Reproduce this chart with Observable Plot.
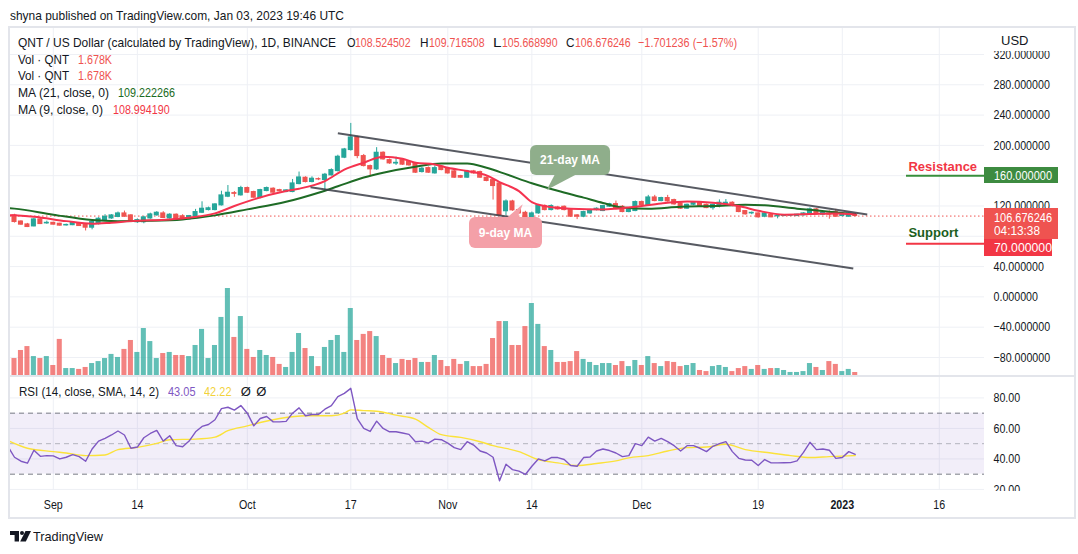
<!DOCTYPE html>
<html>
<head>
<meta charset="utf-8">
<script src="https://cdn.jsdelivr.net/npm/d3@7"></script>
<script src="https://cdn.jsdelivr.net/npm/@observablehq/plot@0.6"></script>
<style>
html,body{margin:0;padding:0;background:#fff;}
#root{position:relative;width:1078px;height:554px;overflow:hidden;background:#fff;color:#131722;}
.a{position:absolute;white-space:nowrap;line-height:1;}
.layer{position:absolute;left:0;top:0;}
</style>
</head>
<body>
<div id="root"></div>
<script>
// ---------------- DATA ----------------
// day index 0 = 2022-08-25 ; candles are days 1..131 (2022-08-26 .. 2023-01-03)
const opens = [107.6,99.5,95.7,93.0,102.3,97.0,97.8,96.6,94.3,94.6,
 97.5,95.5,91.3,96.0,101.4,103.5,105.5,110.2,107.6,98.5,
 98.5,103.5,107.6,110.2,103.5,108.5,106.5,102.3,105.8,111.0,
 114.6,114.6,120.8,132.2,137.0,134.0,143.7,138.4,130.5,139.7,
 142.8,141.0,138.4,138.4,148.9,157.3,151.6,155.5,154.2,160.4,
 166.0,183.7,193.8,210.5,185.9,172.7,168.3,190.3,180.6,176.0,
 180.6,178.0,176.2,164.8,170.0,163.0,171.8,169.2,165.7,159.5,
 157.3,165.7,164.8,157.3,154.2,149.8,113.0,126.0,114.6,111.0,
 102.3,110.2,120.0,114.6,118.1,119.0,114.6,107.6,105.8,110.2,
 114.6,113.3,119.0,122.5,119.0,112.0,113.3,125.2,120.8,131.3,
 126.5,130.5,127.8,123.4,116.4,121.6,124.3,121.6,117.2,119.9,
 122.5,124.3,119.9,113.3,110.2,110.2,105.8,108.5,106.3,106.7,
 107.0,106.7,107.6,108.9,115.5,108.5,110.0,112.0,106.7,105.8,
 108.524502];
const highs = [109.0,100.5,97.0,103.5,103.5,100.0,98.5,97.2,96.0,98.5,
 98.3,96.5,99.5,104.5,108.5,108.5,112.0,113.3,108.5,103.0,
 106.5,110.5,112.5,112.5,109.8,109.5,108.5,107.5,115.5,125.5,
 118.5,123.0,139.5,147.0,139.0,146.0,145.0,139.5,142.0,145.0,
 144.0,142.0,141.5,155.0,164.8,158.5,158.5,157.0,163.0,169.0,
 187.0,196.0,229.0,212.0,188.0,174.0,197.0,191.5,182.0,184.5,
 182.0,179.5,177.5,171.0,171.5,173.0,173.0,170.5,167.0,160.5,
 167.0,167.0,166.0,158.5,155.5,151.0,128.0,127.5,116.0,113.0,
 112.0,122.0,121.5,121.5,119.5,120.0,115.5,108.5,113.0,115.5,
 117.5,121.0,123.5,126.5,120.5,117.5,126.5,126.5,134.0,134.0,
 131.5,134.0,129.0,124.5,122.5,125.5,125.5,122.5,122.5,128.0,
 128.5,125.5,120.5,114.0,112.0,111.0,111.0,109.5,108.0,108.5,
 108.5,109.0,111.0,117.5,116.5,112.5,113.5,115.5,109.5,111.0,
 109.716508];
const lows = [97.5,94.5,91.5,92.5,95.5,95.8,94.8,93.4,93.5,94.0,
 93.0,87.0,88.5,95.0,100.5,102.5,104.5,105.0,98.0,97.0,
 96.5,102.5,106.5,103.5,102.5,101.5,102.0,101.5,105.0,110.0,
 113.5,113.5,120.0,131.0,131.5,133.0,136.5,130.0,129.5,138.8,
 136.5,138.5,137.5,137.5,148.0,150.5,150.5,153.5,140.6,159.5,
 165.0,182.5,192.5,182.4,171.5,159.5,167.0,180.5,175.0,173.5,
 173.5,172.5,163.0,163.5,163.0,162.0,166.5,162.0,156.5,156.5,
 156.5,162.0,156.5,152.0,127.8,106.5,107.0,113.0,109.0,101.5,
 98.0,109.0,113.5,113.5,114.5,113.5,105.0,102.0,104.5,109.0,
 113.5,112.5,118.0,116.5,111.0,111.0,112.5,120.0,120.0,125.5,
 125.5,125.0,121.0,115.5,115.5,120.5,119.0,116.5,114.5,117.5,
 121.5,119.0,111.0,108.0,108.5,104.0,104.5,104.5,103.0,106.0,
 106.2,106.0,107.0,108.0,108.0,107.5,102.5,105.0,105.5,105.0,
 105.668990];
const closes = [98.8,95.3,92.2,102.3,96.1,97.8,95.3,94.0,95.0,97.9,
 93.5,91.3,98.8,103.2,105.8,107.6,110.2,105.8,98.8,101.4,
 105.0,108.9,111.1,104.1,108.5,102.3,103.2,106.7,112.0,116.4,
 117.0,122.1,134.0,137.5,136.0,143.7,137.5,130.9,141.0,143.7,
 137.5,139.3,140.6,149.8,157.7,151.6,156.0,155.0,161.3,167.4,
 185.0,194.7,210.5,185.9,172.7,168.3,190.3,181.5,176.2,177.0,
 174.5,173.6,163.9,169.2,163.9,170.0,167.4,163.0,157.3,157.3,
 165.7,163.0,157.3,153.0,146.3,107.6,126.0,114.2,110.2,102.3,
 110.2,120.8,114.6,120.0,115.5,114.6,105.8,105.8,112.0,114.6,
 116.4,119.9,122.5,117.2,112.0,116.4,125.2,120.8,131.3,126.5,
 130.5,126.0,122.1,116.4,121.6,124.7,119.9,117.2,121.6,124.3,
 124.3,119.9,112.0,108.9,111.0,105.0,110.2,105.0,107.0,107.6,
 107.6,108.5,110.2,115.5,108.9,111.0,108.5,105.8,108.5,110.2,
 106.676246];
// volume in thousands (K)
const volumes = [9.5,14.0,16.2,10.6,9.5,10.6,5.6,20.2,3.9,3.9,
 3.4,4.5,6.7,7.8,9.5,11.8,10.1,14.6,19.6,12.9,
 26.3,19.0,9.5,12.3,12.9,11.2,11.2,10.6,16.8,25.8,
 9.5,16.8,32.5,48.7,21.3,33.0,14.6,10.1,14.0,11.2,
 10.1,6.2,4.5,12.9,23.5,15.1,10.6,5.0,15.7,19.6,
 22.4,12.9,37.5,19.6,23.0,24.6,21.8,11.2,9.5,6.7,
 9.0,8.4,9.5,7.3,7.3,11.2,8.4,5.0,9.0,6.2,
 7.8,5.0,5.0,6.2,20.7,30.2,30.2,16.8,16.8,27.4,
 40.3,28.6,16.2,14.0,7.3,7.3,7.8,13.4,9.0,7.3,
 5.6,6.7,6.7,5.6,7.8,5.0,8.4,5.6,10.6,6.7,
 5.0,7.8,7.3,5.0,5.6,6.7,2.8,2.2,5.0,5.6,
 4.5,2.2,3.9,5.0,3.4,5.6,3.4,3.9,3.9,2.8,
 1.7,1.7,2.2,6.7,4.5,2.8,7.8,6.2,2.2,3.4,
 1.678];
// moving averages: [day index, value]
const ma21 = [[0,117.3],[1,116.5],[7,108.5],[13,101.4],[17,100],[22,100.5],[27,102.3],[32,107.6],[37,115.5],[43,125.5],[48,137.5],[51,146],[55,157.5],[58,163.9],[63,171.8],[67,176],[71,176.2],[74,170.5],[77,162],[81,150],[85,140],[89,131],[92,124],[95,118],[99,116.4],[104,119],[109,119.9],[114,121.6],[117,120.8],[122,116.4],[127,112.5],[131,109.222266]];
const ma9 = [[0,108],[1,107.6],[4,105.8],[9,100],[13,96.5],[16,98],[19,100],[25,102.3],[28,104.5],[32,110.2],[35,119.9],[38,128.7],[43,139.7],[45,142.8],[49,152.9],[52,168],[55,177.1],[58,185],[61,182.4],[63,177.1],[66,174.9],[68,170.5],[71,166.1],[74,160.4],[76,151.6],[79,139.7],[81,125.2],[83,119.9],[87,116.4],[92,115.5],[94,116.4],[97,119],[101,123.4],[105,126],[109,124.3],[113,119.9],[116,113.7],[120,108.5],[124,109.3],[128,110.2],[131,108.99419]];
// RSI(14), day index 0..131
const rsi = [48,
 41.1,38.5,37.2,45.7,41.7,42.2,42,40,41.1,42.8,
 41.5,38.5,46.5,51.7,53.5,55.7,58.3,55.7,47,47.8,
 53.9,56.7,58.7,51.7,55.2,48.7,48,51.7,57.8,61.3,
 62.6,65.7,73,73.9,72,75,70,61.7,66.5,67.8,
 64.3,64.3,64.6,70,73.5,68.3,69.1,69.1,72.6,75,
 80.9,83,86.3,66.5,60,58,64.8,60,57.8,57.8,
 57,56.1,51.3,51.7,50.4,53,52.6,50.4,47.4,46.1,
 51.3,49.1,45.2,43.9,41.1,25.7,36.5,33,32,29.8,
 35.2,40,38.7,40.9,40.9,39.6,35.7,35.2,40.9,41.3,
 45.2,46.5,45.5,43.9,41.5,42.2,50,48.7,54.3,51.7,
 53.5,51.3,48.7,45.2,48.7,48.7,47,44.8,48.3,50,
 51.3,44.8,40.4,39.3,39.1,35.7,39.6,37.4,37.4,37.5,
 37.6,38.7,44.3,50.9,46.1,46.5,45.7,40.4,40.9,44.8,
 43.05];
// RSI-based SMA(14): [day index, value]
const rsiMA = [[0,52],[3,47],[7,44.8],[9,43.9],[12,42.2],[15,42.6],[17,46.1],[20,47.6],[23,50.2],[25,52.6],[29,53],[32,54.3],[34,58.5],[37,61.7],[39,63.9],[42,66.5],[46,68.3],[50,68.3],[52,70],[53,72.2],[55,71.7],[57,71.3],[60,68.7],[63,66.1],[65,60.7],[67,55.9],[70,54.1],[73,51.3],[75,48.7],[79,44.8],[82,39.5],[85,37.4],[88,35.7],[91,37],[94,38.7],[96,40.7],[99,42.2],[102,45.2],[105,47.4],[108,47.8],[111,49.6],[114,46.1],[118,43.9],[121,42.2],[124,40.9],[127,41.5],[131,42.22]];
// user drawings (channel) in chart coordinates: [day, price]
const channel = [[[51.0,216.1],[132.86,108.8]], [[46.77,144.8],[130.7,37.5]]];
const levels = [{name:"Resistance", price:160, day:138.93}, {name:"Support", price:70, day:138.93}];
const callouts = [{text:"21-day MA", day:86.98, price:180.07, tipDay:83.37, tipPrice:140.46},
                  {text:"9-day MA", day:77.0, price:84.36, tipDay:79.66, tipPrice:121.58}];
// price-scale labels that stay visible (80 and 160 sit under the price tags)
const priceTicks = [-80,-40,0,40,120,200,240,280,320];
const gridTicks = [-80,-40,0,40,80,120,160,200,240,280,320];
const rsiTicks = [20,40,60,80];
const tickDays = ["2022-09-01","2022-09-14","2022-10-01","2022-10-17","2022-11-01","2022-11-14","2022-12-01","2022-12-19","2023-01-01","2023-01-16"];
const tickLabels = ["Sep","14","Oct","17","Nov","14","Dec","19","2023","16"];
const lastClose = 106.676246;

// ---------------- HELPERS ----------------
const base = Date.UTC(2022, 7, 25);
const DAY = 864e5;
const dateOf = i => new Date(base + i * DAY);
const root = document.getElementById("root");

const narrowOK = (() => {
  const c = document.createElement("canvas").getContext("2d");
  c.font = "13px monospace"; const a = c.measureText("abcdefghij0123456789").width;
  c.font = "13px 'Liberation Sans Narrow', monospace"; const b = c.measureText("abcdefghij0123456789").width;
  return Math.abs(a - b) > 0.5;
})();
const FONT = narrowOK ? "'Liberation Sans Narrow','Liberation Sans',Arial,sans-serif" : "'Liberation Sans',Arial,sans-serif";
const REG = "'Liberation Sans',Arial,sans-serif";

function txt(str, o) {
  const d = document.createElement("div");
  d.className = "a"; d.textContent = str;
  const size = o.size || 13;
  Object.assign(d.style, {left: o.left + "px", top: (o.cy - size * 0.49) + "px", fontSize: size + "px",
    color: o.color || "#131722", fontWeight: o.weight || "normal", fontFamily: o.family || FONT});
  root.appendChild(d);
  if (o.width) {
    const w = d.getBoundingClientRect().width;
    d.style.transformOrigin = "0 50%";
    d.style.transform = `scaleX(${o.width / w})`;
  }
  return d;
}
function box(css) { const d = document.createElement("div"); d.style.position = "absolute"; Object.assign(d.style, css); root.appendChild(d); return d; }
function place(el, top) { el.classList.add("layer"); el.style.top = top + "px"; root.appendChild(el); return el; }
function squeezeSvgText(svg) {
  if (narrowOK) return;
  svg.querySelectorAll("text").forEach(t => {
    if (t.getAttribute("data-keep")) return;
    const L = t.getComputedTextLength();
    if (L > 0) { t.setAttribute("textLength", L * 0.82); t.setAttribute("lengthAdjust", "spacingAndGlyphs"); }
  });
}

// ---------------- TABLES ----------------
const candles = opens.map((o, k) => ({i: k + 1, date: dateOf(k + 1), o, h: highs[k], l: lows[k], c: closes[k], v: volumes[k], up: closes[k] >= o}));
const up = candles.filter(d => d.up), down = candles.filter(d => !d.up);
const ticks = tickDays.map((s, k) => ({date: new Date(s + "T00:00Z"), label: tickLabels[k]}));
const tickDates = ticks.map(t => t.date);

// ---------------- LAYOUT ----------------
const xDomain = [dateOf(0.382), dateOf(150.99)];
const priceDomain = [-103.8, 354.3];
const rsiDomain = [19.3, 93.4];
const common = {width: 1078, height: 554, marginLeft: 10, marginRight: 94};
const xOpt = {type: "utc", domain: xDomain, axis: null};
const svgStyle = {background: "transparent", fontFamily: FONT, fontSize: "13px", color: "#131722", overflow: "visible"};
const GRID = "#eef0f5";
const UP = "#26a69a", DOWN = "#ef5350";
const bx1 = d => dateOf(d.i - 0.39), bx2 = d => dateOf(d.i + 0.39);

// outer frame
box({left: "8px", top: "26px", width: "1068px", height: "493px", border: "2px solid #e3e5eb", boxSizing: "border-box"});

// grid layer (price pane)
const gridPlot = Plot.plot({...common, marginTop: 28, marginBottom: 179, x: xOpt, y: {domain: priceDomain, axis: null}, style: svgStyle,
  marks: [Plot.gridY(gridTicks, {stroke: GRID, strokeOpacity: 1}), Plot.gridX(tickDates, {stroke: GRID, strokeOpacity: 1})]});
place(gridPlot, 0);

// volume layer
const volPlot = Plot.plot({...common, marginTop: 288, marginBottom: 179, x: xOpt, y: {domain: [0, 48.7], axis: null}, style: svgStyle,
  marks: [
    Plot.rect(up, {x1: bx1, x2: bx2, y1: 0, y2: "v", fill: UP, fillOpacity: 0.72}),
    Plot.rect(down, {x1: bx1, x2: bx2, y1: 0, y2: "v", fill: DOWN, fillOpacity: 0.72})
  ]});
place(volPlot, 0);

// price layer
const fmtPrice = d => (d < 0 ? "\u2212" : "") + Math.abs(d).toFixed(6);
const pricePlot = Plot.plot({...common, marginTop: 28, marginBottom: 179, x: xOpt, y: {domain: priceDomain}, style: svgStyle,
  marks: [
    Plot.ruleY([lastClose], {stroke: DOWN, strokeWidth: 1, strokeDasharray: "1.5,2.5"}),
    Plot.ruleX(up, {x: "date", y1: "l", y2: "h", stroke: UP, strokeWidth: 1}),
    Plot.ruleX(down, {x: "date", y1: "l", y2: "h", stroke: DOWN, strokeWidth: 1}),
    Plot.rect(up, {x1: bx1, x2: bx2, y1: "o", y2: "c", fill: UP, insetTop: -0.5, insetBottom: -0.5}),
    Plot.rect(down, {x1: bx1, x2: bx2, y1: "o", y2: "c", fill: DOWN, insetTop: -0.5, insetBottom: -0.5}),
    Plot.line(ma21, {x: d => dateOf(d[0]), y: d => d[1], stroke: "#1e6b25", strokeWidth: 2, curve: "monotone-x", clip: true}),
    Plot.line(ma9, {x: d => dateOf(d[0]), y: d => d[1], stroke: "#f5334f", strokeWidth: 2, curve: "monotone-x", clip: true}),
    Plot.link(channel, {x1: d => dateOf(d[0][0]), y1: d => d[0][1], x2: d => dateOf(d[1][0]), y2: d => d[1][1], stroke: "#3a3d46", strokeOpacity: 0.85, strokeWidth: 2}),
    Plot.ruleY(levels.slice(0, 1), {y: "price", x1: d => dateOf(d.day), x2: xDomain[1], stroke: "#388e3c", strokeWidth: 2}),
    Plot.ruleY(levels.slice(1), {y: "price", x1: d => dateOf(d.day), x2: xDomain[1], stroke: "#f23645", strokeWidth: 2}),
    Plot.text(levels.slice(0, 1), {x: d => dateOf(d.day + 0.3), y: "price", text: "name", textAnchor: "start", dy: -9, fill: "#f23645", fontWeight: "bold", fontSize: 13, fontFamily: REG}),
    Plot.text(levels.slice(1), {x: d => dateOf(d.day + 0.3), y: "price", text: "name", textAnchor: "start", dy: -11, fill: "#1b5e20", fontWeight: "bold", fontSize: 13, fontFamily: REG}),
    Plot.axisY(priceTicks, {anchor: "right", tickSize: 0, tickPadding: 9, tickFormat: fmtPrice})
  ]});
place(pricePlot, 0);
pricePlot.querySelectorAll("[aria-label='text'] text").forEach(t => t.setAttribute("data-keep", "1"));

const sx = pricePlot.scale("x"), sy = pricePlot.scale("y");
// callouts
const calloutStyle = [
  {w: 80, h: 30, fill: "#8fae8b", base: [-15, 7], edge: 1},
  {w: 73, h: 31, fill: "#f4a0a8", base: [1, 12], edge: -1}
];
const cg = d3.select(pricePlot).append("g");
callouts.forEach((c, k) => {
  const st = calloutStyle[k];
  const cx = sx.apply(dateOf(c.day)), cy = sy.apply(c.price);
  const tx = sx.apply(dateOf(c.tipDay)), ty = sy.apply(c.tipPrice);
  const ey = cy + st.edge * (st.h / 2 - 1);
  cg.append("path").attr("d", `M${cx + st.base[0]},${ey}L${tx},${ty}L${cx + st.base[1]},${ey}Z`).attr("fill", st.fill);
  cg.append("rect").attr("x", cx - st.w / 2).attr("y", cy - st.h / 2).attr("width", st.w).attr("height", st.h).attr("rx", 6).attr("fill", st.fill);
  cg.append("text").attr("data-keep", "1").attr("x", cx).attr("y", cy).attr("dy", "0.36em").attr("text-anchor", "middle")
    .attr("fill", "#fff").attr("font-weight", "bold").attr("font-size", 12).attr("font-family", REG).text(c.text);
});
squeezeSvgText(pricePlot);

// pane separator
box({left: "9px", top: "375px", width: "1066px", height: "2px", background: "#e3e5eb"});

// RSI pane (clipped)
const rsiWrap = box({left: "0px", top: "377px", width: "1078px", height: "114px", overflow: "hidden"});
const rsiPlot = Plot.plot({...common, marginTop: 377, marginBottom: 64, x: xOpt, y: {domain: rsiDomain}, style: svgStyle,
  marks: [
    Plot.gridY(rsiTicks, {stroke: GRID, strokeOpacity: 1}),
    Plot.gridX(tickDates, {stroke: GRID, strokeOpacity: 1}),
    Plot.rect([0], {y1: 30, y2: 70, fill: "#7e57c2", fillOpacity: 0.1}),
    Plot.ruleY([70, 30], {stroke: "#787b86", strokeDasharray: "5,4"}),
    Plot.ruleY([50], {stroke: "#787b86", strokeOpacity: 0.5, strokeDasharray: "5,4"}),
    Plot.line(rsiMA, {x: d => dateOf(d[0]), y: d => d[1], stroke: "#fbe23a", strokeWidth: 1.4, curve: "monotone-x", clip: true}),
    Plot.line(rsi, {x: (d, k) => dateOf(k), y: d => d, stroke: "#7e57c2", strokeWidth: 1.4, clip: true}),
    Plot.axisY(rsiTicks, {anchor: "right", tickSize: 0, tickPadding: 9, tickFormat: d => d.toFixed(2)})
  ]});
rsiPlot.classList.add("layer"); rsiPlot.style.top = "-377px"; rsiWrap.appendChild(rsiPlot);
squeezeSvgText(rsiPlot);

// date axis
const dateAxis = Plot.plot({width: 1078, height: 30, marginLeft: 10, marginRight: 94, marginTop: 0, marginBottom: 0, x: xOpt, style: svgStyle,
  marks: [
    Plot.text(ticks.filter(t => t.label !== "2023"), {x: "date", text: "label", frameAnchor: "middle", fill: "#131722", fontSize: 13}),
    Plot.text(ticks.filter(t => t.label === "2023"), {x: "date", text: "label", frameAnchor: "middle", fill: "#131722", fontSize: 13, fontWeight: "bold"})
  ]});
place(dateAxis, 489);
squeezeSvgText(dateAxis);

// ---------------- HTML TEXT ----------------
txt("shyna published on TradingView.com, Jan 03, 2023 19:46 UTC", {left: 9.5, cy: 15, width: 334});
txt("QNT / US Dollar (calculated by TradingView), 1D, BINANCE", {left: 18.3, cy: 42.3, width: 318});
const ohlc = [["O", "108.524502", 346.7], ["H", "109.716508", 420], ["L", "105.668990", 493.3], ["C", "106.676246", 566]];
ohlc.forEach(([k, v, x]) => { txt(k, {left: x, cy: 42.3, width: 8.5}); txt(v, {left: x + 8.7, cy: 42.3, width: 55.5, color: DOWN}); });
txt("\u22121.701236 (\u22121.57%)", {left: 638.3, cy: 42.3, width: 99, color: DOWN});
[59, 75.6].forEach(cy => { txt("Vol \u00b7 QNT", {left: 18.3, cy, width: 51}); txt("1.678K", {left: 78.3, cy, width: 34, color: DOWN}); });
txt("MA (21, close, 0)", {left: 18.3, cy: 92.3, width: 91}); txt("109.222266", {left: 118.3, cy: 92.3, width: 57, color: "#1b6b23"});
txt("MA (9, close, 0)", {left: 18.3, cy: 109.3, width: 85}); txt("108.994190", {left: 112.7, cy: 109.3, width: 56.6, color: "#f23645"});
txt("RSI (14, close, SMA, 14, 2)", {left: 18.9, cy: 391, width: 140});
txt("43.05", {left: 167.5, cy: 391, width: 27.5, color: "#7e57c2"});
txt("42.22", {left: 203.6, cy: 391, width: 27.5, color: "#f2d23a"});
txt("\u00d8", {left: 240.7, cy: 391}); txt("\u00d8", {left: 256.2, cy: 391});

// USD header on price scale (its white strip trims the top of the 320 label, as in the original)
box({left: "988px", top: "30px", width: "84px", height: "21px", background: "#fff"});
txt("USD", {left: 1001, cy: 40.5});

// price scale tags
function priceBox(lines, top, h, w, bg) {
  box({left: "984px", top: top + "px", width: w + "px", height: h + "px", background: bg});
  lines.forEach(([s, cy]) => txt(s, {left: 994, cy, color: "#fff", width: s.length > 8 ? 58 : 46}));
}
const yR = sy.apply(160), yC = sy.apply(lastClose);
priceBox([["160.000000", yR]], yR - 8, 16, 74, "#3d8b40");
priceBox([["106.676246", yC + 2], ["04:13:38", yC + 15]], yC - 7.5, 31, 74, "#ef5350");
priceBox([["70.000000", yC + 31.8]], yC + 23.5, 17, 68, "#f23645");

// footer logo
const logo = document.createElementNS("http://www.w3.org/2000/svg", "svg");
logo.setAttribute("width", "24"); logo.setAttribute("height", "12");
logo.style.position = "absolute"; logo.style.left = "9.6px"; logo.style.top = "531px";
logo.innerHTML = '<path d="M0 0H9V10.5H4.6V4H0Z" fill="#131722"/><circle cx="12" cy="2" r="2" fill="#131722"/><path d="M15.5 0H21L15.8 10.5H10.2Z" fill="#131722"/>';
root.appendChild(logo);
txt("TradingView", {left: 33.4, cy: 536.7, size: 13, width: 70, family: REG});
</script>
</body>
</html>
